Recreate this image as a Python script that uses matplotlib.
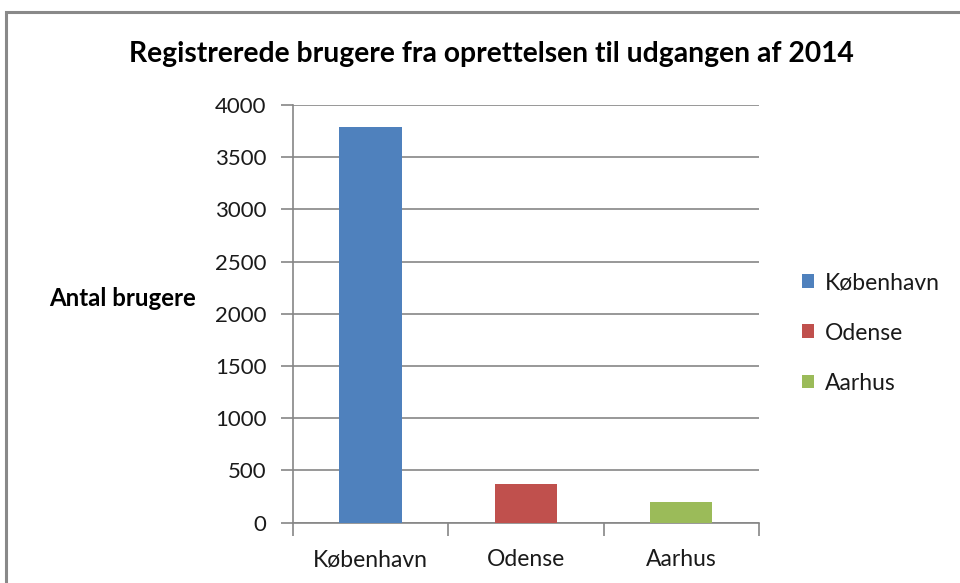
import matplotlib
matplotlib.use("Agg")
import matplotlib.pyplot as plt
from matplotlib.patches import Rectangle, Patch

categories = ["København", "Odense", "Aarhus"]
values = [3790, 370, 195]
colors = ["#4F81BD", "#C0504D", "#9BBB59"]
yticks = [0, 500, 1000, 1500, 2000, 2500, 3000, 3500, 4000]
title = "Registrerede brugere fra oprettelsen til udgangen af 2014"
ylabel = "Antal brugere"

plt.rcParams['font.family'] = ['Lato', 'DejaVu Sans']

fig = plt.figure(figsize=(9.6, 5.83), dpi=100)
W, H = 960, 583
ax = fig.add_axes([292.7 / W, 1 - 522.7 / H, (759 - 292.7) / W, (522.7 - 105) / H])

grid_c = "#868686"
x = list(range(len(categories)))
for i, (c, v, col) in enumerate(zip(categories, values, colors)):
    ax.bar(i, v, width=0.4, color=col, label=c, zorder=3)

ax.set_xlim(-0.5, len(categories) - 0.5)
ax.set_ylim(0, 4000)
ax.set_yticks(yticks)
ax.set_yticklabels([str(t) for t in yticks], fontsize=16, color="#1a1a1a")
ax.set_xticks(x)
ax.set_xticklabels(categories, fontsize=16.5, color="#1a1a1a")
ax.set_xticks([-0.5, 0.5, 1.5, 2.5], minor=True)
ax.tick_params(axis='x', which='major', length=0, pad=19)
ax.tick_params(axis='x', which='minor', length=9, color=grid_c, width=1.2, direction='out')
ax.tick_params(axis='y', length=9, color=grid_c, width=1.2, pad=10, direction='out')
ax.yaxis.grid(True, color=grid_c, linewidth=1.2, zorder=0)
ax.set_axisbelow(True)
for s in ['top', 'right']:
    ax.spines[s].set_visible(False)
ax.spines['left'].set_color(grid_c)
ax.spines['bottom'].set_color(grid_c)
ax.spines['left'].set_linewidth(1.2)
ax.spines['bottom'].set_linewidth(1.2)

fig.text(491 / W, 1 - 54 / H, title, fontsize=20.3, fontweight='bold', ha='center', va='center')
fig.text(123 / W, 1 - 299 / H, ylabel, fontsize=17.3, fontweight='bold', ha='center', va='center')

handles = [Patch(facecolor=col, label=c) for c, col in zip(categories, colors)]
leg = fig.legend(handles=handles, loc='center left', bbox_to_anchor=(781 / W, 1 - 333 / H),
                 frameon=False, fontsize=16.5, handlelength=0.55, handleheight=0.55,
                 handletextpad=0.45, labelspacing=1.27)
for t in leg.get_texts():
    t.set_color("#1a1a1a")

fig.patches.append(Rectangle((6 / W, -0.1), 1.2, 1.1 - 12.5 / H,
                             transform=fig.transFigure, fill=False,
                             edgecolor="#898989", linewidth=2.2))

fig.savefig("out.png", dpi=100)
